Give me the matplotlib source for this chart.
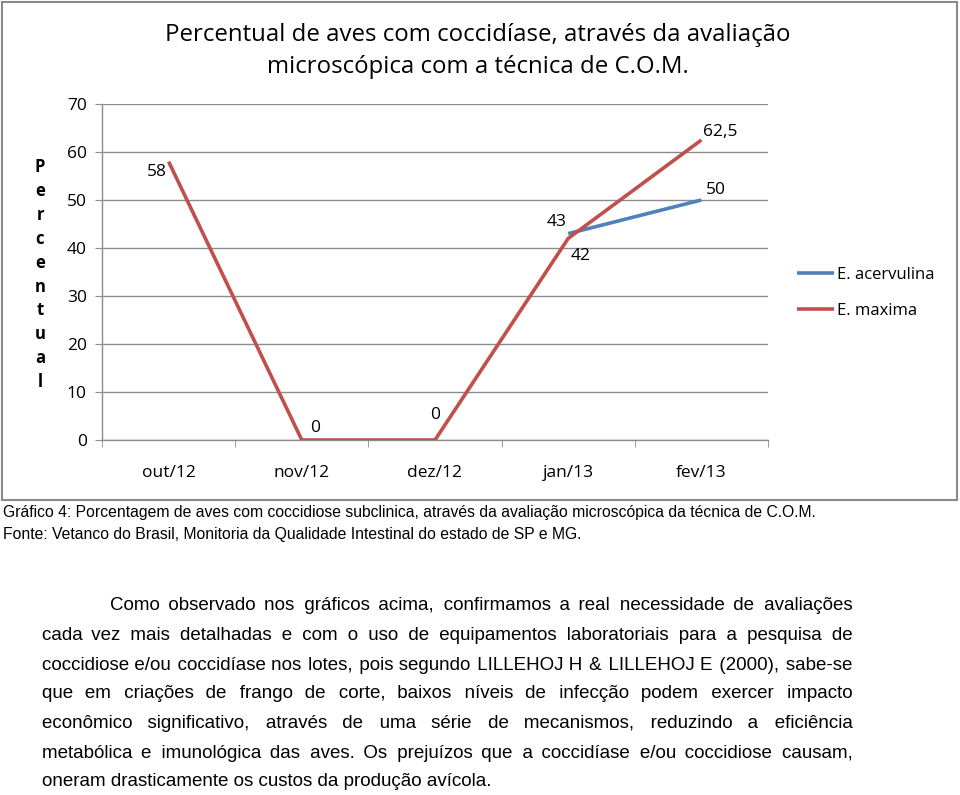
import matplotlib
matplotlib.use("Agg")
import matplotlib.pyplot as plt
from matplotlib import font_manager
from matplotlib.ft2font import FT2Font
from matplotlib.patches import Rectangle

# Chart data
months = ["out/12", "nov/12", "dez/12", "jan/13", "fev/13"]
acervulina = [None, None, None, 43, 50]
maxima = [58, 0, 0, 42, 62.5]
maxima_labels = ["58", "0", "0", "42", "62,5"]
acervulina_labels = [None, None, None, "43", "50"]
y_ticks = [0, 10, 20, 30, 40, 50, 60, 70]

title = "Percentual de aves com coccidíase, através da avaliação\nmicroscópica com a técnica de C.O.M."
caption = "Gráfico 4: Porcentagem de aves com coccidiose subclinica, através da avaliação microscópica da técnica de C.O.M."
source = "Fonte: Vetanco do Brasil, Monitoria da Qualidade Intestinal do estado de SP e MG."
paragraph = [
    "Como observado nos gráficos acima, confirmamos a real necessidade de avaliações",
    "cada vez mais detalhadas e com o uso de equipamentos laboratoriais para a pesquisa de",
    "coccidiose e/ou coccidíase nos lotes, pois segundo LILLEHOJ H & LILLEHOJ E (2000), sabe-se",
    "que em criações de frango de corte, baixos níveis de infecção podem exercer impacto",
    "econômico significativo, através de uma série de mecanismos, reduzindo a eficiência",
    "metabólica e imunológica das aves. Os prejuízos que a coccidíase e/ou coccidiose causam,",
    "oneram drasticamente os custos da produção avícola.",
]

BLUE = "#4F81BD"
RED = "#C0504D"
GRID = "#8C8C8C"
W, H = 960, 795
chart_font = "Open Sans"
body_font = "Liberation Sans"
body_size = 13.5


def fx(px):
    return px / W


def fy(py):
    return 1 - py / H


fig = plt.figure(figsize=(9.6, 7.95), dpi=100)
fig.patch.set_facecolor("white")

# border of the chart box
fig.patches.append(Rectangle((fx(2), fy(500)), fx(955), 498 / H, transform=fig.transFigure,
                             fill=False, edgecolor="#8A8A8A", linewidth=1.5))

ax = fig.add_axes([fx(102), fy(440), fx(666), 336 / H])
x = list(range(len(months)))

ax.plot(x, maxima, color=RED, linewidth=2.6, solid_capstyle="butt", label="E. maxima", zorder=3)
xa = [i for i, v in zip(x, acervulina) if v is not None]
ya = [v for v in acervulina if v is not None]
ax.plot(xa, ya, color=BLUE, linewidth=2.6, solid_capstyle="butt", label="E. acervulina", zorder=2)

ax.set_xlim(-0.5, len(months) - 0.5)
ax.set_ylim(0, 70)
ax.set_yticks(y_ticks)
ax.set_xticks(x)
ax.set_xticklabels(months, fontsize=12.5, family=chart_font)
ax.set_yticklabels([str(t) for t in y_ticks], fontsize=12.5, family=chart_font)
ax.set_xticks([i - 0.5 for i in range(len(months) + 1)], minor=True)
ax.tick_params(axis="x", which="major", length=0, pad=18)
ax.tick_params(axis="x", which="minor", length=5, color=GRID, direction="out")
ax.tick_params(axis="y", length=5, color=GRID, pad=6)
ax.grid(axis="y", color=GRID, linewidth=1)
ax.set_axisbelow(True)
for s in ["top", "right"]:
    ax.spines[s].set_visible(False)
for s in ["left", "bottom"]:
    ax.spines[s].set_color(GRID)
    ax.spines[s].set_linewidth(1)

# data labels
red_offsets = [(-12, -10), (13, 12), (0, 25), (12, -18), (19, 8)]
blue_offsets = [None, None, None, (-12, 12), (14, 10)]
for i in x:
    ax.annotate(maxima_labels[i], (i, maxima[i]), xytext=red_offsets[i], textcoords="offset pixels",
                ha="center", va="center", fontsize=12.5, family=chart_font)
    if acervulina_labels[i]:
        ax.annotate(acervulina_labels[i], (i, acervulina[i]), xytext=blue_offsets[i],
                    textcoords="offset pixels", ha="center", va="center", fontsize=12.5, family=chart_font)

# legend
handles, labels = ax.get_legend_handles_labels()
fig.legend(handles[::-1], labels[::-1], loc="upper left", bbox_to_anchor=(fx(782), fy(252)),
           frameon=False, prop={"family": chart_font, "size": 12},
           handlelength=2.2, handletextpad=0.2, labelspacing=1.2)

fig.text(fx(478), fy(51), title, ha="center", va="center", fontsize=17.3, family=chart_font,
         linespacing=1.45)

# vertical stacked y label
ylabel = "Percentual"
for k, ch in enumerate(ylabel):
    fig.text(fx(40), fy(167 + k * 23.9), ch, ha="center", va="center", fontsize=12,
             fontweight="bold", family=chart_font)

fig.text(fx(3), fy(512), caption, ha="left", va="center", fontsize=11.3, family=body_font)
fig.text(fx(3), fy(534), source, ha="left", va="center", fontsize=11.3, family=body_font)

# justified paragraph: one text per line, gaps padded with hair spaces
renderer = fig.canvas.get_renderer()
font_path = font_manager.findfont(font_manager.FontProperties(family=body_font))
charmap = FT2Font(font_path).get_charmap()
pad_char = next((c for c in ["\u200a", "\u2009", "\u2006"] if ord(c) in charmap), None)


def text_width(s):
    t = fig.text(0, 0, s, fontsize=body_size, family=body_font)
    wd = t.get_window_extent(renderer).width
    t.remove()
    return wd


pad_w = text_width("a" + pad_char + "a") - text_width("aa") if pad_char else 0

left, right = 42, 853
line_y = [606, 636, 665, 694, 723, 753, 782]
for n, line in enumerate(paragraph):
    start = 110 if n == 0 else left
    words = line.split(" ")
    text = line
    if n < len(paragraph) - 1 and pad_w > 0:
        extra = (right - start) - text_width(line)
        total = max(0, int(round(extra / pad_w)))
        gaps = len(words) - 1
        text = words[0]
        for g in range(gaps):
            k = total * (g + 1) // gaps - total * g // gaps
            text += " " + pad_char * k + words[g + 1]
    fig.text(fx(start), fy(line_y[n]), text, ha="left", va="center",
             fontsize=body_size, family=body_font)

fig.savefig("out.png", dpi=100, facecolor="white")
